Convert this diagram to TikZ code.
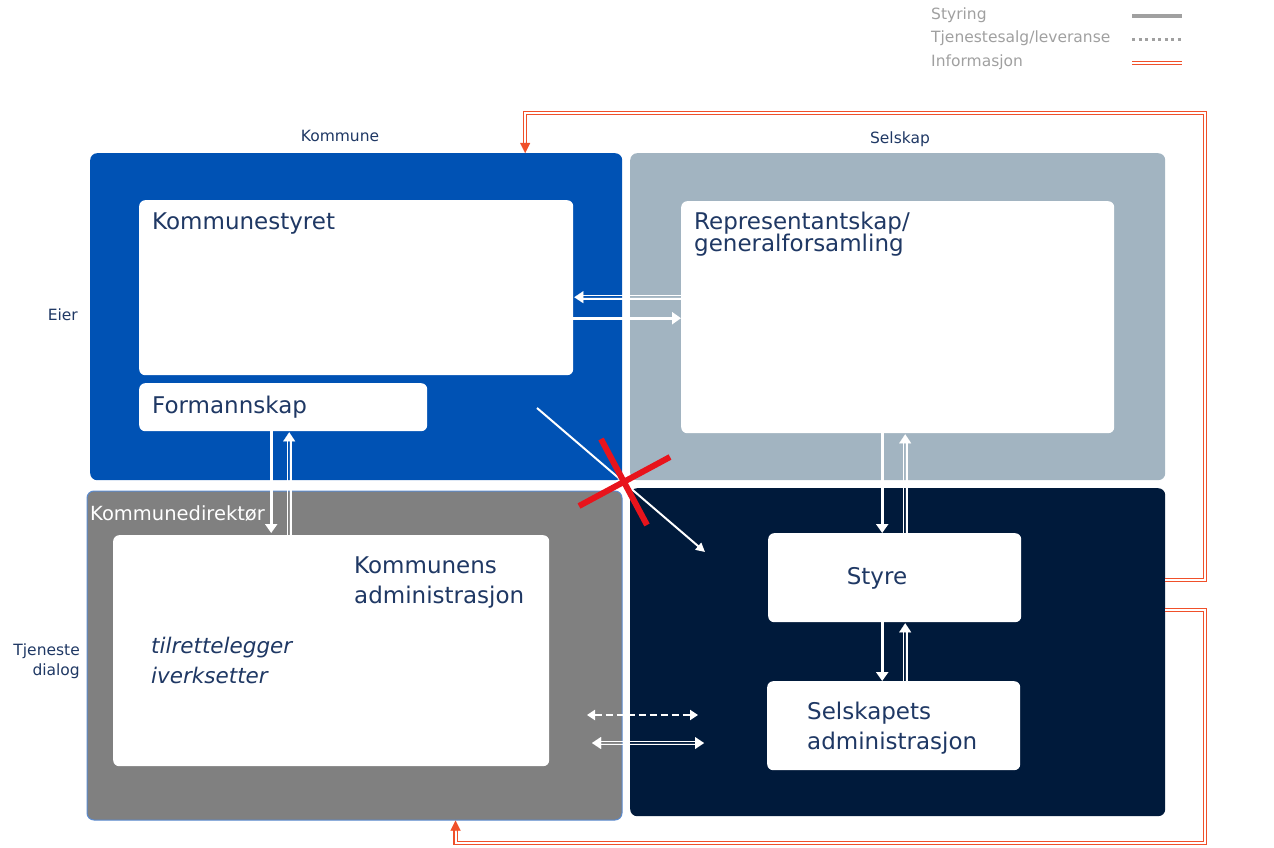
\documentclass[tikz,border=0pt]{standalone}
\usepackage{fontspec}
\setmainfont{DejaVu Sans}
\usetikzlibrary{arrows.meta,calc}
\definecolor{kblue}{HTML}{0052B4}
\definecolor{sgray}{HTML}{A2B4C1}
\definecolor{dgray}{HTML}{808080}
\definecolor{navyc}{HTML}{001A3B}
\definecolor{txtc}{HTML}{1F3864}
\definecolor{lblue}{HTML}{5B8BD0}
\definecolor{infored}{HTML}{F0502A}
\definecolor{leggray}{HTML}{A0A0A0}
\definecolor{xred}{HTML}{E8141C}
\begin{document}
\begin{tikzpicture}[x=1pt,y=-1pt,
  region/.style={draw=none, rounded corners=7pt, anchor=north west, inner sep=0pt},
  wbox/.style={fill=white, draw=none, rounded corners=6pt, anchor=north west, inner sep=0pt},
  btxt/.style={text=txtc, font=\fontsize{23}{27}\selectfont, inner sep=0pt, anchor=base west},
  small/.style={text=txtc, font=\fontsize{15.5}{18}\selectfont, inner sep=0pt},
  leg/.style={text=leggray, font=\fontsize{15.5}{18}\selectfont, inner sep=0pt, anchor=base west},
  solidarr/.style={white, line width=2.8pt, -{Triangle[width=12pt,length=9pt]}},
  dbl/.style={white, line width=0.01pt, -{Triangle[width=12pt,length=9pt]},
    postaction={draw=white, arrows=-, line width=1.2pt, shorten >=7pt, transform canvas={#1=1.8pt}},
    postaction={draw=white, arrows=-, line width=1.2pt, shorten >=7pt, transform canvas={#1=-1.8pt}}},
  dblboth/.style={white, line width=0.01pt, {Triangle[width=12pt,length=9pt]}-{Triangle[width=12pt,length=9pt]},
    postaction={draw=white, arrows=-, line width=1.2pt, shorten >=7pt, shorten <=7pt, transform canvas={#1=1.8pt}},
    postaction={draw=white, arrows=-, line width=1.2pt, shorten >=7pt, shorten <=7pt, transform canvas={#1=-1.8pt}}},
  dasharr/.style={white, line width=2.4pt, dash pattern=on 7pt off 4pt, {Triangle[width=10pt,length=8pt]}-{Triangle[width=10pt,length=8pt]}},
  info/.style={draw=infored, line width=1.1pt, double=white, double distance=2pt},
  infotip/.style={infored, line width=0.01pt, -{Triangle[width=10pt,length=10pt]}},
  xline/.style={xred, line width=6pt}
]
\useasboundingbox (0,0) rectangle (1274,848);

% regions
\node[region, fill=kblue, minimum width=532pt, minimum height=327pt] (kommune) at (90,153) {};
\node[region, fill=sgray, minimum width=535pt, minimum height=327pt] (selskap) at (630,153) {};
\node[region, fill=dgray, draw=lblue, line width=1pt, minimum width=535pt, minimum height=329pt] (dir) at (86.5,490.5) {};
\node[region, fill=navyc, minimum width=535pt, minimum height=328pt] (navy) at (630,488) {};

% white boxes
\node[wbox, minimum width=434pt, minimum height=175pt] (ks) at (139,200) {};
\node[wbox, minimum width=288pt, minimum height=48pt] (form) at (139,383) {};
\node[wbox, minimum width=433pt, minimum height=232pt] (rep) at (681,201) {};
\node[wbox, minimum width=436pt, minimum height=231pt] (adm) at (113,535) {};
\node[wbox, minimum width=253pt, minimum height=89pt] (styre) at (768,533) {};
\node[wbox, minimum width=253pt, minimum height=89pt] (sadm) at (767,681) {};

% texts
\node[btxt] (t-ks) at (152,229) {Kommunestyret};
\node[btxt] (t-rep1) at (694,229) {Representantskap/};
\node[btxt] (t-rep2) at (694,251) {generalforsamling};
\node[btxt] (t-form) at (152,413) {Formannskap};
\node[btxt] (t-adm1) at (354,573) {Kommunens};
\node[btxt] (t-adm2) at (354,603) {administrasjon};
\node[btxt, font=\fontsize{21.5}{24}\selectfont\itshape] (t-til1) at (151,653) {tilrettelegger};
\node[btxt, font=\fontsize{21.5}{24}\selectfont\itshape] (t-til2) at (151,683) {iverksetter};
\node[btxt, anchor=base] (t-styre) at (877,584) {Styre};
\node[btxt] (t-sadm1) at (807,719) {Selskapets};
\node[btxt] (t-sadm2) at (807,749) {administrasjon};
\node[btxt, text=white, font=\fontsize{19.5}{22}\selectfont] (t-dir) at (90,520) {Kommunedirektør};

\node[small, anchor=base] (l-kom) at (340,142) {Kommune};
\node[small, anchor=base] (l-sel) at (900,143) {Selskap};
\node[small, anchor=base east] (l-eier) at (78,320) {Eier};
\node[small, anchor=base east] (l-tj1) at (80,655) {Tjeneste};
\node[small, anchor=base east] (l-tj2) at (80,675) {dialog};

% legend
\node[leg] (g1) at (931,20) {Styring};
\node[leg] (g2) at (931,43) {Tjenestesalg/leveranse};
\node[leg] (g3) at (931,67) {Informasjon};
\coordinate (g1a) at (1132,16); \coordinate (g1b) at (1182,16);
\coordinate (g2a) at (1132,40); \coordinate (g2b) at (1182,40);
\coordinate (g3a) at (1132,63); \coordinate (g3b) at (1182,63);
\draw[leggray, line width=3.5pt] (g1a) -- (g1b);
\draw[leggray, line width=3pt, dash pattern=on 3pt off 3.5pt] (g2a) -- (g2b);
\draw[info] (g3a) -- (g3b);

% Kommunestyret <-> Representantskap
\draw[dbl=yshift] ([yshift=20pt]rep.west) -- ([yshift=-9.5pt,xshift=1pt]ks.east);
\draw[solidarr] ([yshift=-30.5pt]ks.east) -- ([yshift=-1pt]rep.west);

% Formannskap <-> Kommunedirektoer
\draw[solidarr] ([xshift=-12pt]form.south) -- ([xshift=-60pt,yshift=2pt]adm.north);
\draw[dbl=xshift] ([xshift=-42pt]adm.north) -- ([xshift=6pt,yshift=-1pt]form.south);

% Representantskap <-> Styre
\draw[solidarr] ([xshift=-15.5pt]rep.south) -- ([xshift=-12.5pt]styre.north);
\draw[dbl=xshift] ([xshift=10.5pt]styre.north) -- ([xshift=7.5pt,yshift=-1pt]rep.south);

% Styre <-> Selskapets administrasjon
\draw[solidarr] ([xshift=-12.5pt]styre.south) -- ([xshift=-11.5pt]sadm.north);
\draw[dbl=xshift] ([xshift=11.5pt]sadm.north) -- ([xshift=10.5pt,yshift=-1pt]styre.south);

% service arrows
\coordinate (s1a) at (587,715); \coordinate (s1b) at (698,715);
\coordinate (s2a) at (592,743); \coordinate (s2b) at (704,743);
\draw[dasharr] (s1a) -- (s1b);
\draw[dblboth=yshift] (s2a) -- (s2b);

% diagonal crossed-out arrow
\coordinate (d1) at (537,408); \coordinate (d2) at (705,552);
\draw[white, line width=2pt, -{Triangle[width=9pt,length=9pt]}] (d1) -- (d2);
\coordinate (x1a) at (601,439); \coordinate (x1b) at (647,525);
\coordinate (x2a) at (579,506); \coordinate (x2b) at (670,457);
\draw[xline] (x1a) -- (x1b);
\draw[xline] (x2a) -- (x2b);

% information lines
\coordinate (rc1) at (1205,113);
\coordinate (rc2) at (1205,843);
\coordinate (tip1) at ([xshift=169pt]kommune.north);
\coordinate (tip2) at ([xshift=101pt]dir.south);
\draw[info, shorten >=9pt] ([yshift=72pt]navy.east) -| (rc1) -| (tip1);
\draw[infotip] ($(tip1)+(0,-11)$) -- (tip1);
\draw[info, shorten >=9pt] ([yshift=42pt]navy.east) -| (rc2) -| (tip2);
\draw[infotip] ($(tip2)+(0,11)$) -- (tip2);
\end{tikzpicture}
\end{document}
